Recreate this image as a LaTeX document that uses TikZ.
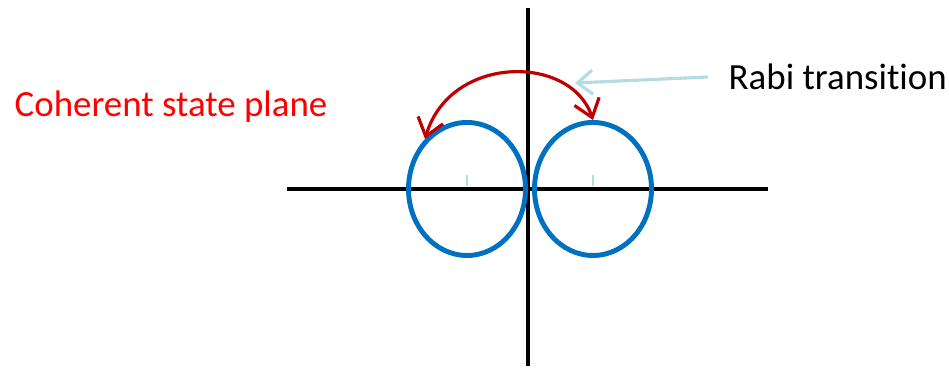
\documentclass[tikz,border=0pt]{standalone}
\usepackage{fontspec}
\setmainfont[Ligatures=NoCommon]{Carlito}
\usetikzlibrary{shapes.geometric,arrows.meta}
\definecolor{lobeblue}{HTML}{0070C0}
\definecolor{hopred}{HTML}{C00000}
\definecolor{paleblue}{HTML}{B4DDE3}

\begin{document}
\begin{tikzpicture}[>=Straight Barb,font=\fontsize{10.5pt}{12pt}\selectfont,
  axis/.style={draw,line width=1.15pt},
  lobe/.style={ellipse,draw=lobeblue,line width=1.4pt,minimum width=1.17cm,minimum height=1.33cm,inner sep=0pt},
  tickmark/.style={draw=paleblue,line width=0.5pt},
  hop/.style={draw=hopred,line width=0.9pt,{Straight Barb[length=1.7mm,width=2.6mm]}-{Straight Barb[length=1.7mm,width=2.6mm]}},
  pointer/.style={draw=paleblue,line width=0.9pt,-{Straight Barb[length=1.5mm,width=2.4mm]}}]
  \useasboundingbox (0,0) rectangle (9.49,3.68);
  % axes
  \draw[axis] (2.87,1.79) -- (7.68,1.79);
  \draw[axis] (5.28,0.02) -- (5.28,3.60);
  % the two lobes
  \node[lobe] (left) at (4.67,1.79) {};
  \node[lobe] (right) at (5.93,1.79) {};
  \draw[tickmark] (left.center) ++(0,0.03) -- ++(0,0.11);
  \draw[tickmark] (right.center) ++(0,0.03) -- ++(0,0.11);
  % transition
  \draw[hop] (left.130) .. controls (4.5,3.14) and (5.71,3.14) .. (right.north);
  \node[text=red] (plane) at (1.71,2.61) {Coherent state plane};
  \node[anchor=west,inner sep=0.2cm] (rabi) at (7.08,2.91) {Rabi transition};
  \coordinate (tip) at (5.75,2.85);
  \draw[pointer] (rabi.west) -- (tip);
\end{tikzpicture}
\end{document}
